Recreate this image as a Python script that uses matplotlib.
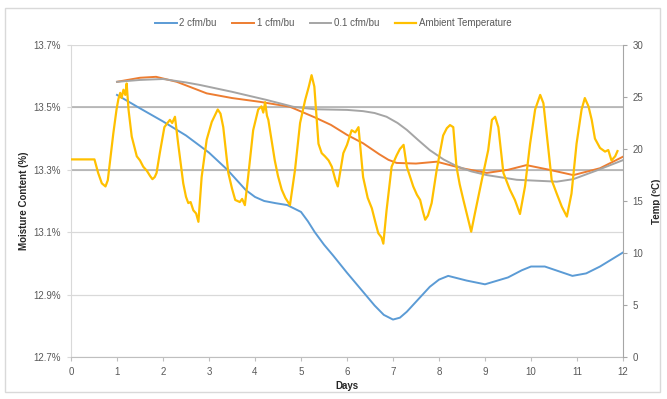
import matplotlib

matplotlib.use("Agg")
import matplotlib.pyplot as plt  # noqa: E402
from matplotlib.patches import Rectangle  # noqa: E402
from matplotlib.ticker import FuncFormatter  # noqa: E402

plt.rcParams["font.family"] = ["Liberation Sans", "DejaVu Sans"]

# moisture content curves (day, % MC)
days_2cfm = [1.0, 1.5, 2.0, 2.5, 3.0, 3.4, 3.8, 4.0, 4.2, 4.45, 4.7, 5.0, 5.15, 5.3, 5.5,
             5.7, 6.0, 6.2, 6.4, 6.6, 6.8, 7.0, 7.15, 7.3, 7.6, 7.8, 8.0, 8.2, 8.6, 9.0,
             9.5, 9.8, 10.0, 10.3, 10.6, 10.9, 11.2, 11.5, 12.0]
mc_2cfm = [13.54, 13.497, 13.455, 13.41, 13.355, 13.30, 13.235, 13.213, 13.20, 13.193,
           13.187, 13.165, 13.135, 13.10, 13.06, 13.025, 12.97, 12.935, 12.90, 12.865,
           12.835, 12.82, 12.826, 12.845, 12.893, 12.925, 12.948, 12.96, 12.945, 12.933,
           12.955, 12.978, 12.99, 12.99, 12.975, 12.96, 12.968, 12.99, 13.035]

days_1cfm = [1.0, 1.5, 1.85, 2.3, 2.95, 3.5, 4.1, 4.76, 5.3, 5.65, 6.0, 6.35, 6.7, 6.9,
             7.08, 7.5, 7.95, 8.5, 9.04, 9.5, 9.9, 10.4, 10.92, 11.5, 12.0]
mc_1cfm = [13.582, 13.595, 13.598, 13.582, 13.545, 13.53, 13.518, 13.502, 13.468, 13.444,
           13.412, 13.385, 13.35, 13.332, 13.322, 13.32, 13.326, 13.305, 13.29, 13.30,
           13.315, 13.30, 13.283, 13.305, 13.342]

days_01cfm = [1.0, 1.5, 2.0, 2.5, 2.8, 3.5, 4.25, 4.83, 5.3, 6.0, 6.35, 6.6, 6.86, 7.1,
              7.3, 7.55, 7.8, 8.1, 8.38, 8.7, 9.04, 9.69, 10.56, 10.92, 11.43, 12.0]
mc_01cfm = [13.582, 13.588, 13.591, 13.58, 13.572, 13.55, 13.524, 13.502, 13.494, 13.492,
            13.488, 13.482, 13.47, 13.45, 13.428, 13.395, 13.363, 13.333, 13.312, 13.295,
            13.283, 13.268, 13.262, 13.27, 13.298, 13.331]

# ambient temperature (day, degC)
days_temp = [0.00, 0.51, 0.59, 0.67, 0.75, 0.80, 0.85, 0.92, 0.99, 1.03, 1.07, 1.10, 1.14,
             1.18, 1.21, 1.25, 1.32, 1.43, 1.50, 1.57, 1.65, 1.72, 1.77, 1.82, 1.86, 1.93,
             2.03, 2.08, 2.15, 2.20, 2.26, 2.33, 2.44, 2.50, 2.55, 2.60, 2.66, 2.72, 2.77,
             2.84, 2.95, 3.06, 3.19, 3.25, 3.31, 3.42, 3.50, 3.57, 3.67, 3.72, 3.78, 3.85,
             3.96, 4.07, 4.14, 4.18, 4.22, 4.26, 4.29, 4.43, 4.50, 4.58, 4.66, 4.76, 4.87,
             4.98, 5.09, 5.17, 5.23, 5.29, 5.38, 5.45, 5.52, 5.60, 5.67, 5.75, 5.80, 5.86,
             5.92, 6.00, 6.10, 6.18, 6.25, 6.35, 6.45, 6.54, 6.62, 6.68, 6.75, 6.79, 6.86,
             6.97, 7.08, 7.15, 7.23, 7.30, 7.44, 7.52, 7.59, 7.65, 7.70, 7.76, 7.84, 7.95,
             8.09, 8.17, 8.24, 8.31, 8.38, 8.45, 8.53, 8.62, 8.70, 8.78, 8.93, 9.07, 9.15,
             9.22, 9.29, 9.40, 9.54, 9.65, 9.76, 9.87, 9.98, 10.09, 10.20, 10.27, 10.34,
             10.45, 10.56, 10.67, 10.78, 10.88, 10.99, 11.10, 11.17, 11.25, 11.32, 11.39,
             11.50, 11.61, 11.68, 11.75, 11.83, 11.88]
temp = [19.0, 19.0, 17.7, 16.7, 16.4, 17.0, 18.9, 21.5, 23.8, 24.8, 25.4, 24.9, 25.7,
        25.2, 26.3, 23.8, 21.2, 19.3, 18.9, 18.3, 17.9, 17.4, 17.1, 17.3, 17.7, 19.6,
        22.1, 22.4, 22.8, 22.5, 23.1, 20.5, 16.7, 15.4, 14.8, 14.9, 14.1, 13.8, 13.0,
        17.3, 20.9, 22.6, 23.8, 23.4, 22.1, 17.7, 16.2, 15.1, 14.9, 15.2, 14.6, 17.3,
        21.8, 23.8, 24.1, 23.5, 24.5, 23.2, 22.8, 18.9, 17.4, 16.1, 15.3, 14.6, 18.0,
        22.5, 24.7, 26.0, 27.1, 26.0, 20.5, 19.6, 19.3, 18.9, 18.3, 17.0, 16.4, 18.0,
        19.6, 20.4, 21.8, 21.6, 22.1, 17.3, 15.3, 14.3, 12.9, 11.9, 11.5, 10.9, 14.1,
        18.3, 19.4, 20.0, 20.4, 18.3, 16.4, 15.6, 15.1, 14.0, 13.2, 13.6, 14.8, 18.0,
        21.3, 22.0, 22.3, 22.1, 18.3, 16.6, 15.1, 13.5, 12.05, 13.8, 17.0, 19.9, 22.8,
        23.1, 22.1, 17.7, 16.1, 15.1, 13.75, 16.4, 20.5, 23.8, 25.2, 24.4, 21.5,
        17.0, 15.7, 14.45, 13.5, 15.7, 20.5, 23.8, 24.9, 24.1, 22.8, 21.0,
        20.1, 19.75, 19.9, 18.9, 19.3, 19.8]

mc_ticks = [12.7, 12.9, 13.1, 13.3, 13.5, 13.7]
temp_ticks = [0, 5, 10, 15, 20, 25, 30]
day_ticks = list(range(13))
ref_lines = [13.3, 13.5]

TICK_COLOR = "#595959"

fig = plt.figure(figsize=(6.67, 3.99), dpi=100)
ax = fig.add_axes([71 / 667, 1 - 357 / 399, 552 / 667, 312 / 399])
ax2 = ax.twinx()

for y in mc_ticks:
    ax.axhline(y, color="#D9D9D9", lw=0.9, zorder=0)
for y in ref_lines:
    ax.axhline(y, color="#ADADAD", lw=1.1, zorder=1)

ax.plot(days_2cfm, mc_2cfm, color="#5B9BD5", lw=1.4, label="2 cfm/bu")
ax.plot(days_1cfm, mc_1cfm, color="#ED7D31", lw=1.4, label="1 cfm/bu")
ax.plot(days_01cfm, mc_01cfm, color="#A5A5A5", lw=1.4, label="0.1 cfm/bu")
ax2.plot(days_temp, temp, color="#FFC000", lw=1.6, label="Ambient Temperature")

ax.set_xlim(0, 12)
ax.set_ylim(12.7, 13.7)
ax2.set_ylim(0, 30)
ax.set_xticks(day_ticks)
ax.set_yticks(mc_ticks)
ax2.set_yticks(temp_ticks)
ax.yaxis.set_major_formatter(FuncFormatter(lambda v, _: f"{v:.1f}%"))

for a in (ax, ax2):
    a.tick_params(labelsize=7, colors=TICK_COLOR, length=3, width=0.8)
    for s in a.spines.values():
        s.set_visible(False)
ax.tick_params(axis="y", color="#D9D9D9", pad=4)
ax.tick_params(axis="x", color="#BFBFBF", pad=4)
ax2.tick_params(axis="y", color="#A6A6A6", pad=4)
ax.spines["left"].set_visible(True)
ax.spines["left"].set_color("#D9D9D9")
ax.spines["bottom"].set_visible(True)
ax.spines["bottom"].set_color("#BFBFBF")
ax2.spines["right"].set_visible(True)
ax2.spines["right"].set_color("#A6A6A6")

ax.set_xlabel("Days", fontsize=7, fontweight="bold", color="#262626", labelpad=3)
ax.set_ylabel("Moisture Content (%)", fontsize=7, fontweight="bold", color="#262626", labelpad=3)
ax2.set_ylabel("Temp (ºC)", fontsize=7, fontweight="bold", color="#262626", labelpad=6)

handles = ax.get_lines()[len(mc_ticks) + len(ref_lines):] + ax2.get_lines()
fig.legend(handles, [h.get_label() for h in handles], loc="center", ncol=4,
           bbox_to_anchor=(0.5, 1 - 23 / 399), frameon=False, fontsize=7,
           handlelength=2.2, handletextpad=0.3, columnspacing=1.6, labelcolor=TICK_COLOR)

fig.patches.append(Rectangle((5 / 667, 1 - 392 / 399), 655 / 667, 384 / 399,
                             transform=fig.transFigure, fill=False, ec="#D9D9D9", lw=1))

fig.savefig("out.png", dpi=100)
plt.close(fig)
